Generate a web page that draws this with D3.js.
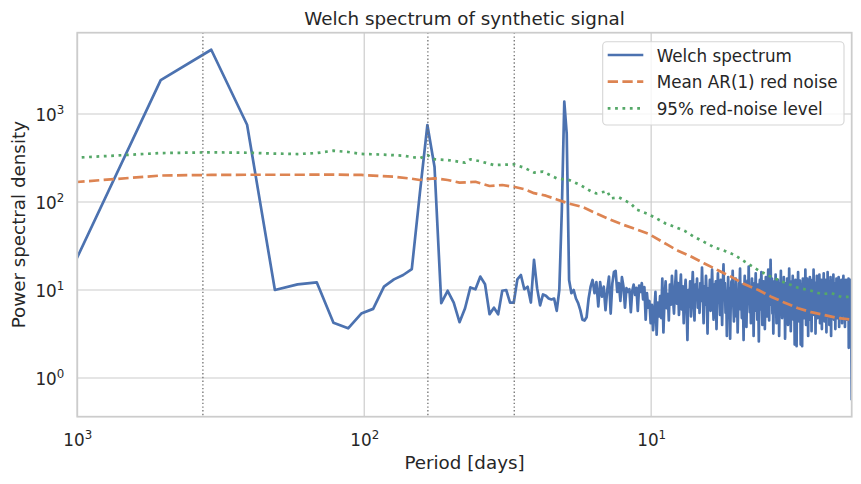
<!DOCTYPE html>
<html>
<head>
<meta charset="utf-8">
<script src="https://cdn.jsdelivr.net/npm/d3@7"></script>
<style>
	body { margin:0; background:#fff; }
	svg text { font-family:'DejaVu Sans', sans-serif; fill:#262626; }
</style>
</head>
<body>
<svg id="chart" width="861" height="484"></svg>
<script>
// welch segment length in days, bin k sits at period segLength/k
var segLength = 1024;

// psd per bin, k = 1..512
var welchPsd = [
	20, 2430, 5380, 755, 10, 11.6, 12.2, 4.25, 3.67, 5.4, 6.1, 10.9, 13.2, 14.8, 17.3, 125, 750, 252, 7.1, 9.8,
	7.2, 4.3, 6.2, 10.7, 10.2, 14.2, 11.6, 5.3, 6.3, 5.3, 9.8, 10.0, 7.2, 7.2, 13.2, 14.8, 10.2, 10.9, 7.2, 22,
	10.5, 6.7, 8.9, 8.6, 8.0, 7.8, 8.0, 5.8, 10, 80, 1380, 600, 13, 9.2, 10, 8.0, 7.1, 5.9, 4.6, 4.5,
	4.9, 8.0, 10.9, 13.0, 9.2, 12.3, 6.5, 12.3, 8.4, 10.9, 5.9, 10, 14.2, 5.4, 11.9, 16.1, 16.5, 9.5, 12, 7.5,
	14, 11, 6.3, 10.5, 9.5, 10.2, 5.6, 9.8, 11.5, 8.8, 10.6, 5.8, 11.2, 9.5, 12, 7.8, 10.8, 4.6, 9.2, 6.3,
	7.5, 4.2, 6.8, 3.5, 5.5, 9.5, 3.1, 7.2, 5.0, 8.5, 4.8, 13.5, 3.3, 7.8, 12.5, 6.2, 9.0, 4.5, 11.5, 6.8,
	14.5, 8.2, 5.4, 10.5, 16.5, 7.0, 12.0, 5.2, 9.5, 15.0, 6.0, 11.0, 4.2, 8.8, 13.0, 7.4, 2.7, 10.0, 6.5, 12.5,
	5.0, 9.2, 16.0, 7.8, 4.5, 11.5, 8.0, 13.5, 6.3, 10.0, 5.5, 12, 7.5, 18, 9, 4.2, 11, 6.8, 14.5, 8.2,
	3.2, 10.5, 7.0, 13.0, 5.8, 9.5, 17.0, 8.0, 4.6, 11.5, 6.5, 12.5, 3.6, 9.0, 15.5, 7.2, 10.5, 5.2, 13.0, 8.5,
	4.0, 11.0, 19.5, 7.8, 12.0, 5.5, 9.8, 3.0, 8.2, 14.0, 6.2, 10.5, 2.8, 7.5, 12.5, 9.0, 16.5, 6.8, 4.4, 11.0,
	8.0, 13.5, 5.0, 9.5, 3.3, 7.0, 12.0, 10.0, 17.5, 6.0, 8.8, 4.8, 11.5, 7.5, 2.7, 9.2, 14.5, 6.5, 10.8, 3.8,
	8.5, 12.8, 7.2, 18.5, 9.0, 5.6, 11.0, 4.2, 8.0, 13.5, 6.8, 10.2, 3.0, 7.8, 12.0, 9.5, 15.5, 5.8, 8.6, 4.6,
	11.5, 7.0, 2.6, 9.8, 13.0, 6.0, 10.5, 16.0, 7.5, 4.0, 9.5, 12.5, 6.2, 10.0, 3.6, 8.0, 14.0, 7.2, 11.0, 5.0,
	9.0, 17.0, 8.4, 4.5, 12.0, 6.8, 22.0, 10.5, 7.5, 13.5, 5.4, 9.8, 3.2, 8.5, 12.5, 6.5, 10.0, 15.0, 7.8, 4.2,
	11.0, 8.0, 13.0, 5.8, 9.5, 3.0, 7.2, 12.0, 9.0, 16.5, 6.2, 10.5, 4.8, 8.6, 11.5, 7.0, 14.0, 5.2, 9.2, 2.8,
	7.8, 12.0, 10.0, 6.0, 13.5, 8.2, 4.0, 11.0, 7.4, 17.5, 9.0, 5.6, 10.8, 3.4, 8.0, 12.5, 6.6, 9.8, 14.5, 7.2,
	4.6, 11.0, 8.4, 2.4, 9.0, 13.0, 6.0, 10.2, 2.3, 7.5, 12.0, 8.8, 16.0, 6.4, 10.5, 4.4, 9.2, 12.8, 7.0, 2.4,
	8.5, 11.5, 6.0, 2.3, 9.5, 13.5, 7.4, 10.0, 4.8, 8.2, 12.0, 6.6, 17.0, 9.0, 4.0, 11.0, 7.5, 13.5, 5.8, 9.6,
	3.0, 8.0, 12.5, 10.0, 6.2, 14.0, 8.4, 4.6, 10.8, 7.2, 3.4, 9.0, 13.0, 6.5, 11.5, 8.0, 17.0, 9.5, 5.2, 10.5,
	7.0, 12.0, 3.2, 8.6, 11.0, 6.0, 14.5, 9.0, 4.8, 10.0, 7.6, 12.5, 5.6, 9.4, 15.0, 8.0, 4.2, 11.0, 6.8, 10.2,
	13.0, 7.4, 3.6, 9.5, 12.0, 8.2, 5.4, 10.8, 15.5, 7.0, 9.8, 4.4, 11.5, 8.0, 13.0, 6.2, 10.0, 3.3, 8.8, 12.0,
	7.2, 16.0, 9.0, 5.0, 10.5, 7.8, 12.5, 4.0, 9.2, 11.0, 6.6, 14.0, 8.4, 3.0, 10.0, 7.0, 12.8, 5.8, 9.6, 11.5,
	7.4, 15.0, 8.6, 4.6, 10.5, 6.8, 12.0, 9.0, 3.6, 8.0, 11.5, 6.2, 13.5, 9.0, 4.8, 10.8, 7.6, 12.5, 5.4, 9.4,
	14.0, 8.2, 3.8, 10.0, 7.0, 12.0, 9.0, 5.2, 11.0, 8.0, 13.0, 6.4, 10.5, 4.2, 9.0, 12.5, 7.4, 10.2, 14.5, 8.4,
	5.6, 11.0, 7.8, 12.8, 3.8, 9.5, 11.5, 6.8, 13.0, 8.8, 4.6, 10.5, 7.2, 12.0, 9.2, 5.8, 11.0, 8.0, 13.5, 2.2,
	9.6, 12.2, 6.6, 10.8, 8.4, 13.0, 5.0, 10.0, 11.8, 7.0, 1.5, 0.56
];

// mean AR(1) red noise, at some bins
var redBins = [1, 2, 3, 4, 6, 8, 10, 13, 15, 16, 18, 20, 22, 25, 28, 31, 34, 37, 40, 44, 48, 53, 59, 66, 73, 82, 91, 101,
	117, 127, 141, 157, 175, 195, 217, 242, 268, 298, 333, 370, 411, 457, 512];
var redPsd = [168, 200, 203, 204, 204, 205, 203, 194, 184, 178, 186, 178, 166, 170, 152, 156, 149, 140, 126, 118, 107, 96, 88, 74, 64, 55, 49, 43,
	32.5, 28, 24, 20, 16.8, 14.1, 11.6, 10, 8.4, 7.2, 6.2, 5.6, 5.2, 4.8, 4.6];

// 95% red-noise level
var levelBins = [1, 2, 3, 4, 5, 6, 7, 8, 9, 10, 12, 14, 16, 17, 18, 20, 23, 24, 26, 29, 34, 37, 40, 43, 48, 53, 58, 63, 66, 72, 74, 79,
	87, 91, 99, 107, 115, 128, 134, 145, 157, 170, 184, 200, 217, 242, 268, 298, 333, 370, 402, 436, 473, 512];
var levelPsd = [318, 360, 367, 363, 355, 351, 360, 383, 370, 352, 345, 336, 314, 342, 306, 300, 280, 306, 290, 263, 268, 245, 216, 221, 186, 178, 156, 133, 125, 133, 110, 113,
	96, 82, 74, 65, 57, 50, 47, 40, 35, 30.5, 28, 25, 21, 16.8, 14.1, 12.2, 10.6, 9.8, 9.0, 9.2, 8.3, 8.4];

var markPeriods = [365, 60, 30];
var xTicks = [1000, 100, 10];
var yTicks = [1, 10, 100, 1000];
var seriesNames = ['Welch spectrum', 'Mean AR(1) red noise', '95% red-noise level'];

var svg = d3.select('#chart');
var L = 77.3, R = 851.7, T = 32.7, B = 416.7;

var x = d3.scaleLog().domain([1000, 2]).range([L, R]);
var y = d3.scaleLog().domain([0.363, 8400]).range([B, T]);

var pts = function(bins, vals) {
	return bins.map(function(k, i) { return [segLength / k, vals[i]]; });
};
var welch = welchPsd.map(function(v, i) { return [segLength / (i + 1), v]; });
var red = pts(redBins, redPsd);
var level = pts(levelBins, levelPsd);

svg.append('defs').append('clipPath').attr('id', 'plotclip')
	.append('rect').attr('x', L).attr('y', T).attr('width', R - L).attr('height', B - T);

// grid
var grid = svg.append('g');
grid.selectAll('.gx').data(xTicks).enter().append('line')
	.attr('x1', x).attr('x2', x).attr('y1', T).attr('y2', B)
	.style('stroke', '#cccccc').style('stroke-width', 1.2);
grid.selectAll('.gy').data(yTicks).enter().append('line')
	.attr('x1', L).attr('x2', R).attr('y1', y).attr('y2', y)
	.style('stroke', '#cccccc').style('stroke-width', 1.2);

var supLabel = function(sel) {
	sel.each(function(d) {
		var t = d3.select(this).text('10');
		t.append('tspan').attr('dy', -6.5).style('font-size', '11.8px').text(Math.round(Math.log10(d)));
	});
};

// axes
var xAxis = svg.append('g').attr('transform', 'translate(0,' + B + ')')
	.call(d3.axisBottom(x).tickValues(xTicks).tickSize(0).tickFormat(''));
xAxis.select('.domain').remove();
xAxis.selectAll('.tick text').attr('y', 29.3).attr('dy', 0).style('font-size', '16.8px').call(supLabel);

var yAxis = svg.append('g').attr('transform', 'translate(' + L + ',0)')
	.call(d3.axisLeft(y).tickValues(yTicks).tickSize(0).tickPadding(13).tickFormat(''));
yAxis.select('.domain').remove();
yAxis.selectAll('.tick text').attr('dy', '0.36em').style('font-size', '16.8px').call(supLabel);

var line = d3.line().x(function(d) { return x(d[0]); }).y(function(d) { return y(d[1]); });
var plot = svg.append('g').attr('clip-path', 'url(#plotclip)');

var styles = [
	{ color:'#4c72b0', dash:null },
	{ color:'#dd8452', dash:'10.3,4.4' },
	{ color:'#55a868', dash:'2.78,4.6' }
];
[welch, red, level].forEach(function(data, i) {
	plot.append('path').datum(data).attr('d', line)
		.style('fill', 'none').style('stroke', styles[i].color).style('stroke-width', 2.7)
		.style('stroke-linejoin', 'round')
		.style('stroke-dasharray', styles[i].dash);
});

plot.selectAll('.mark').data(markPeriods).enter().append('line')
	.attr('x1', x).attr('x2', x).attr('y1', T).attr('y2', B)
	.style('stroke', '#707070').style('stroke-width', 1.3).style('stroke-dasharray', '1.4,2.3');

// frame
svg.append('rect').attr('x', L).attr('y', T).attr('width', R - L).attr('height', B - T)
	.style('fill', 'none').style('stroke', '#cccccc').style('stroke-width', 1.75);

// texts
svg.append('text').attr('x', (L + R) / 2).attr('y', 25).attr('text-anchor', 'middle')
	.style('font-size', '18.3px').text('Welch spectrum of synthetic signal');
svg.append('text').attr('x', (L + R) / 2).attr('y', 469.3).attr('text-anchor', 'middle')
	.style('font-size', '18.3px').text('Period [days]');
svg.append('text').attr('transform', 'translate(25,' + (T + B) / 2 + ') rotate(-90)').attr('text-anchor', 'middle')
	.style('font-size', '18.3px').text('Power spectral density');

// legend
var leg = svg.append('g');
leg.append('rect').attr('x', 602.7).attr('y', 41.7).attr('width', 241.3).attr('height', 83.3).attr('rx', 4)
	.style('fill', 'rgba(255,255,255,0.8)').style('stroke', '#d5d5d5').style('stroke-width', 1.1);
seriesNames.forEach(function(name, i) {
	var cy = 55 + i * 26.65;
	leg.append('line').attr('x1', 607.7).attr('x2', 643.3).attr('y1', cy).attr('y2', cy)
		.style('stroke', styles[i].color).style('stroke-width', 2.7).style('stroke-dasharray', styles[i].dash);
	leg.append('text').attr('x', 656.7).attr('y', cy + 6.6).style('font-size', '16.8px').text(name);
});
</script>
</body>
</html>
